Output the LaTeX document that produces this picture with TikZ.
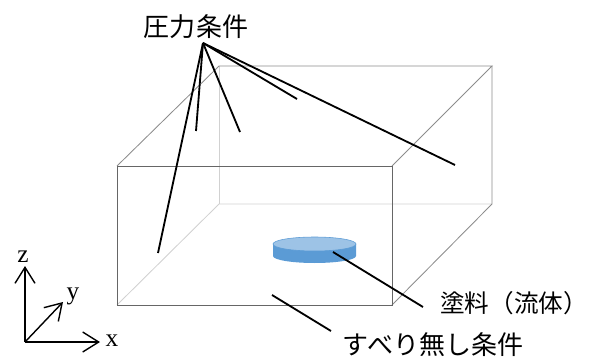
\documentclass[tikz,border=0pt]{standalone}
\usepackage{fontspec}
\setmainfont{Liberation Serif}
\newfontfamily\jpfont{Noto Sans CJK JP}
\usetikzlibrary{arrows.meta}

\definecolor{disktop}{HTML}{9DC3E6}
\definecolor{diskside}{HTML}{5B9BD5}

\begin{document}
\begin{tikzpicture}[
    x=0.025cm, y=-0.025cm,
    front/.style={draw=black!60, line width=0.6pt},
    outer/.style={draw=black!45, line width=0.6pt},
    hidden/.style={draw=black!18, line width=0.6pt},
    leader/.style={line width=1.3pt},
    jplabel/.style={font=\jpfont\fontsize{18.5}{22}\selectfont, inner sep=0pt},
    axis/.style={-{Straight Barb[length=4mm,width=5mm]}, line width=1pt},
    axlabel/.style={font=\fontsize{18}{20}\selectfont, inner sep=0pt}
]
\useasboundingbox (0,0) rectangle (592,361);

% box: hidden edges first, then the visible ones
\draw[hidden] (117,305) -- (219,204) -- (492,204);
\draw[hidden] (219,66) -- (219,204);
\draw[outer] (117,166) -- (219,66) -- (492,66) -- (392,166);
\draw[outer] (492,66) -- (492,204) -- (392,305);
\draw[front] (117,166) rectangle (392,305);

% paint disk
\fill[diskside] (273,244) -- (273,256)
    arc[start angle=180, end angle=0, x radius=41.5, y radius=7] -- (356,244) -- cycle;
\draw[diskside, fill=disktop, line width=0.4pt] (314.5,244) ellipse [x radius=41.5, y radius=7];

% labels
\node[jplabel] (pressure) at (196,27) {圧力条件};
\node[jplabel, font=\jpfont\fontsize{17.5}{22}\selectfont, anchor=west] (paint) at (440,303) {塗料（流体）};
\node[jplabel] (noslip) at (433,345) {すべり無し条件};

\coordinate (p0) at (203,43);
\coordinate (p1) at (158,253);
\coordinate (p2) at (196,131);
\coordinate (p3) at (240,132);
\coordinate (p4) at (297,99);
\coordinate (p5) at (455,165);
\coordinate (f0) at (333,252);
\coordinate (f1) at (423,307);
\coordinate (s0) at (272,295);
\coordinate (s1) at (331,331);

\foreach \i in {1,...,5}
    \draw[leader] (p0) -- (p\i);
\draw[leader] (f0) -- (f1);
\draw[leader] (s0) -- (s1);

% coordinate axes
\coordinate (o) at (25,342);
\coordinate (zt) at (25,266);
\coordinate (yt) at (63,302);
\coordinate (xt) at (100,342);
\draw[axis] (o) -- (zt);
\draw[axis] (o) -- (yt);
\draw[axis] (o) -- (xt);
\node[axlabel] (zlab) at (23,257) {z};
\node[axlabel] (ylab) at (73,296) {y};
\node[axlabel] (xlab) at (112,341) {x};
\end{tikzpicture}
\end{document}
